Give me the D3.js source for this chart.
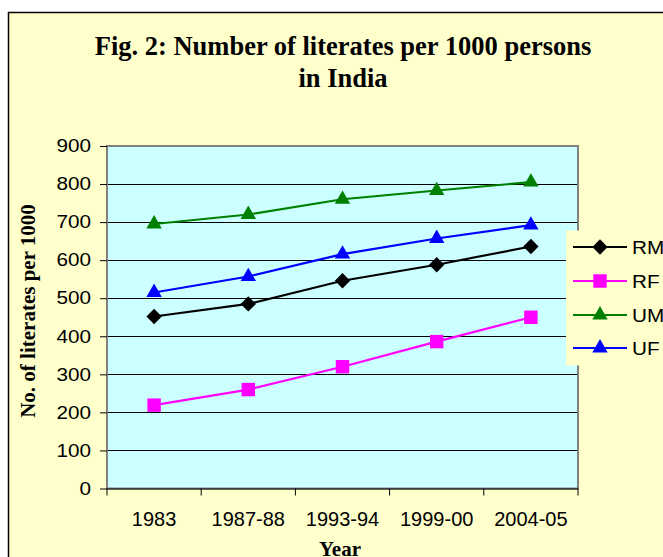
<!DOCTYPE html>
<html><head><meta charset="utf-8">
<script src="https://cdn.jsdelivr.net/npm/d3@7"></script>
<style>body{margin:0;background:#fff;overflow:hidden}svg{display:block}</style>
</head><body>
<script>
const categories = ["1983","1987-88","1993-94","1999-00","2004-05"];
const seriesNames = ["RM","RF","UM","UF"];
const RM = [452, 485, 546, 588, 636];
const RF = [219, 260, 320, 386, 450];
const UM = [695, 720, 760, 783, 805];
const UF = [515, 557, 616, 657, 692];
const yTicks = [0,100,200,300,400,500,600,700,800,900];
const colors = {RM:"#000000", RF:"#ff00ff", UM:"#008000", UF:"#0000ff"};
const shapes = {RM:d3.symbolDiamond2, RF:d3.symbolSquare2, UM:d3.symbolTriangle2, UF:d3.symbolTriangle2};
const data = {RM, RF, UM, UF};

(function(){
const W = 663, H = 557;
const svg = d3.select("body").append("svg").attr("width", W).attr("height", H);
const sans = "'Liberation Sans',Arial,sans-serif";
const serif = "'Liberation Serif','Times New Roman',serif";
const stretch = (sel, f) => sel.each(function(){
  const w = this.getComputedTextLength();
  d3.select(this).attr("textLength", w * f).attr("lengthAdjust", "spacingAndGlyphs");
});

// chart area
svg.append("rect").attr("x", 8.5).attr("y", 12.5).attr("width", 700).attr("height", 600)
  .attr("fill", "#ffffcc").attr("stroke", "#000").attr("stroke-width", 1.5);

// title
const title = svg.append("text").attr("text-anchor", "middle")
  .attr("font-family", serif).attr("font-weight", "bold")
  .attr("font-size", 26.5).attr("fill", "#000");
title.append("tspan").attr("x", 343).attr("y", 55).text("Fig. 2: Number of literates per 1000 persons");
title.append("tspan").attr("x", 343).attr("y", 87).text("in India");

const pL = 107, pR = 578, pT = 146, pB = 488.5;
const x = d3.scalePoint().domain(categories).range([pL, pR]).padding(0.5);
const y = d3.scaleLinear().domain([0, 900]).range([pB, pT]);

svg.append("rect").attr("x", pL).attr("y", pT).attr("width", pR-pL).attr("height", pB-pT)
  .attr("fill", "#ccffff");

// gridlines
svg.append("g").selectAll("line").data(yTicks.filter(d => d > 0)).join("line")
  .attr("x1", pL).attr("x2", pR).attr("y1", d => Math.round(y(d))+0.5).attr("y2", d => Math.round(y(d))+0.5)
  .attr("stroke", "#000").attr("stroke-width", 1);

// plot border
svg.append("rect").attr("x", pL).attr("y", pT).attr("width", pR-pL).attr("height", pB-pT)
  .attr("fill", "none").attr("stroke", "#808080").attr("stroke-width", 2);

// y axis
const yAxis = svg.append("g").attr("transform", `translate(${pL},0)`)
  .call(d3.axisLeft(y).tickValues(yTicks).tickSize(7).tickPadding(9).tickFormat(d3.format("d")));
yAxis.select(".domain").remove();
yAxis.selectAll("text").attr("font-family", sans).attr("font-size", 18).attr("fill", "#000");
stretch(yAxis.selectAll("text"), 1.15);
yAxis.selectAll("line").attr("stroke", "#000");

// x axis
const xTickPos = d3.range(categories.length + 1).map(i => pL + i * (pR-pL)/categories.length);
svg.append("g").selectAll("line").data(xTickPos).join("line")
  .attr("x1", d => d).attr("x2", d => d).attr("y1", pB).attr("y2", pB + 7)
  .attr("stroke", "#000");
svg.append("line").attr("x1", pL).attr("x2", pR).attr("y1", pB+0.5).attr("y2", pB+0.5)
  .attr("stroke", "#000").attr("stroke-width", 1);
svg.append("g").selectAll("text").data(categories).join("text")
  .attr("x", d => x(d)).attr("y", 525.5).attr("text-anchor", "middle")
  .attr("font-family", sans).attr("font-size", 20).attr("fill", "#000")
  .text(d => d);

// axis titles
svg.append("text").attr("transform", "translate(35,311) rotate(-90)").attr("text-anchor", "middle")
  .attr("font-family", serif).attr("font-weight", "bold")
  .attr("font-size", 21).text("No. of literates per 1000");
svg.append("text").attr("x", 340).attr("y", 555.5).attr("text-anchor", "middle")
  .attr("font-family", serif).attr("font-weight", "bold")
  .attr("font-size", 21).text("Year");

// series
const line = d3.line().x((d,i) => x(categories[i])).y(d => y(d));
const symSize = n => n === "RF" ? 230 : (n === "RM" ? 150 : 170);
seriesNames.forEach(name => {
  const g = svg.append("g");
  g.append("path").datum(data[name]).attr("d", line).attr("fill", "none")
    .attr("stroke", colors[name]).attr("stroke-width", 2.2);
  g.selectAll("path.m").data(data[name]).join("path").attr("class", "m")
    .attr("transform", (d,i) => `translate(${x(categories[i])},${y(d)})`)
    .attr("d", d3.symbol().type(shapes[name]).size(symSize(name)))
    .attr("fill", colors[name]);
});

// legend
const lg = svg.append("g");
lg.append("rect").attr("x", 566).attr("y", 230.5).attr("width", 120).attr("height", 135)
  .attr("fill", "#ffffcc");
const ly = [247, 281, 315, 348];
seriesNames.forEach((name, i) => {
  lg.append("line").attr("x1", 573).attr("x2", 627).attr("y1", ly[i]).attr("y2", ly[i])
    .attr("stroke", colors[name]).attr("stroke-width", 2.2);
  lg.append("path").attr("transform", `translate(600,${ly[i]})`)
    .attr("d", d3.symbol().type(shapes[name]).size(symSize(name)))
    .attr("fill", colors[name]);
  const t = lg.append("text").attr("x", 632).attr("y", ly[i] + 7)
    .attr("font-family", sans).attr("font-size", 18).attr("fill", "#000")
    .text(name);
  stretch(t, 1.15);
});
})();
</script>
</body></html>
